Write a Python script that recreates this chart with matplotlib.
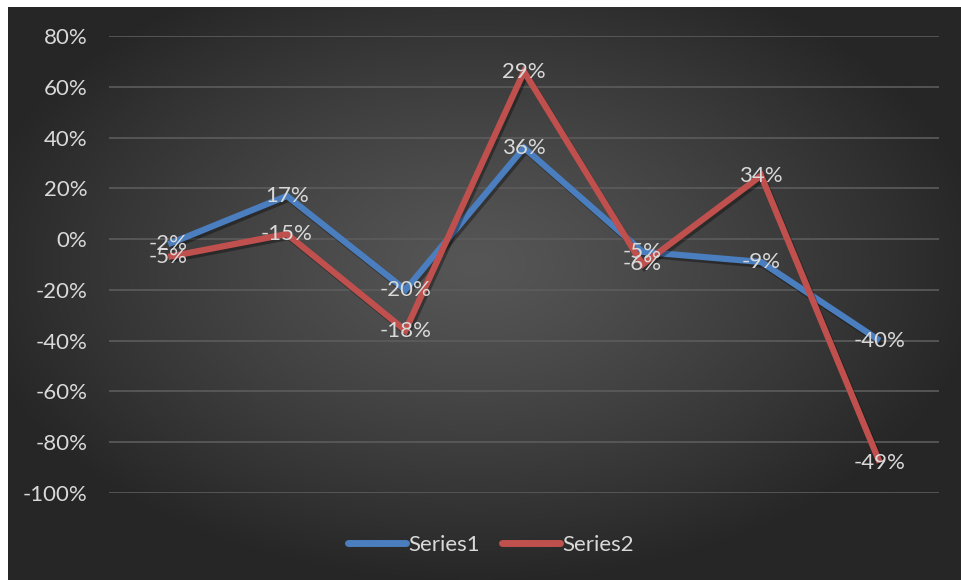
import numpy as np
import matplotlib
matplotlib.use("Agg")
from matplotlib import pyplot as plt
from matplotlib import patheffects as pe
from matplotlib.ticker import MultipleLocator, FuncFormatter

# chart data
categories = [1, 2, 3, 4, 5, 6, 7]
series1 = [-2, 17, -20, 36, -5, -9, -40]
series1_labels = ["-2%", "17%", "-20%", "36%", "-5%", "-9%", "-40%"]
series2 = [-7, 2, -36, 66, -10, 25, -88]
series2_labels = ["-5%", "-15%", "-18%", "29%", "-6%", "34%", "-49%"]
series_names = ["Series1", "Series2"]

blue = "#4a7ebf"
red = "#c0504d"
text_color = "#d9d9d9"
font = "Lato"
fsize = 16

W, H = 962, 580
fig = plt.figure(figsize=(W / 100, H / 100), dpi=100, facecolor="white")

# radial gradient backdrop of the chart area
bg = fig.add_axes([8 / W, 0, 1 - 8 / W, 1 - 7 / H])
bg.set_axis_off()
gx, gy = np.meshgrid(np.linspace(-1, 1, 400), np.linspace(-1, 1, 240))
cx, cy = -0.02, -0.1
r = np.sqrt(((gx - cx) / 1.08) ** 2 + ((gy - cy) / 1.12) ** 2)
r = np.clip(r, 0, 1)
c0, c1 = 0x56 / 255, 0x26 / 255
shade = c0 + (c1 - c0) * r ** 1.2
bg.imshow(np.dstack([shade] * 3), aspect="auto", extent=[0, 1, 0, 1])
bg.set_xlim(0, 1)
bg.set_ylim(0, 1)

# plot area
left, right = 109 / W, 939 / W
bottom, top = (H - 493) / H, (H - 36) / H
ax = fig.add_axes([left, bottom, right - left, top - bottom])
ax.patch.set_alpha(0)
for s in ax.spines.values():
    s.set_visible(False)

ax.set_xlim(0.5, 7.5)
ax.set_ylim(-100, 80)
ax.yaxis.set_major_locator(MultipleLocator(20))
ax.yaxis.set_major_formatter(FuncFormatter(lambda v, p: "{:.0f}%".format(v)))
ax.grid(axis="y", color="#5c5c5c", linewidth=1.2)
ax.set_axisbelow(True)
ax.set_xticks([])
ax.tick_params(axis="y", length=0, pad=15.5, labelcolor=text_color, labelsize=fsize)
for t in ax.get_yticklabels():
    t.set_fontfamily(font)

shadow = [pe.SimpleLineShadow(offset=(1.5, -2), shadow_color="black", alpha=0.35), pe.Normal()]
for vals, col, name in [(series1, blue, series_names[0]), (series2, red, series_names[1])]:
    ax.plot(categories, vals, color=col, lw=4.5, solid_joinstyle="miter",
            solid_capstyle="butt", label=name, path_effects=shadow, zorder=3)

# data labels centred on the points
for vals, labels in [(series1, series1_labels), (series2, series2_labels)]:
    for x, v, lab in zip(categories, vals, labels):
        ax.text(x, v, lab, ha="center", va="center", color=text_color,
                fontsize=fsize, family=font, zorder=5)

leg = fig.legend(loc="center", bbox_to_anchor=(491 / W, (H - 545) / H), ncol=2,
                 frameon=False, handlelength=2.6, handletextpad=0.1, columnspacing=1.0,
                 prop={"family": font, "size": fsize})
for h in leg.legend_handles:
    h.set_solid_capstyle("round")
    h.set_linewidth(5)
    h.set_path_effects([])
for t in leg.get_texts():
    t.set_color(text_color)

fig.savefig("out.png", dpi=100, facecolor="white")
